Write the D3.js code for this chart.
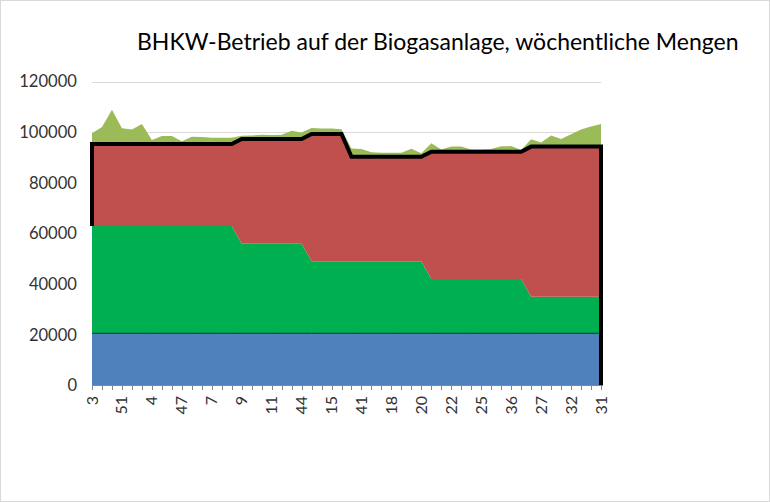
<!DOCTYPE html>
<html><head><meta charset="utf-8">
<script src="https://cdn.jsdelivr.net/npm/d3@7"></script>
<style>body{margin:0;background:#fff}svg{display:block}</style>
</head><body>
<svg id="c" width="770" height="502"></svg>
<script>
// Category tick labels (every 3rd week of 52 shown)
const tickLabels = ["3","51","4","47","7","9","11","44","15","41","18","20","22","25","36","27","32","31"];
const labelEvery = 3;
const yTicks = [0,20000,40000,60000,80000,100000,120000];

// Stacked series (thickness of each layer)
const blueSeries = [20600,20600,20600,20600,20600,20600,20600,20600,20600,20600,20600,20600,20600,20600,20600,20600,20600,20600,20600,20600,20600,20600,20600,20600,20600,20600,20600,20600,20600,20600,20600,20600,20600,20600,20600,20600,20600,20600,20600,20600,20600,20600,20600,20600,20600,20600,20600,20600,20600,20600,20600,20600];
const greenSeries = [42400,42400,42400,42400,42400,42400,42400,42400,42400,42400,42400,42400,42400,42400,42400,
  35400,35400,35400,35400,35400,35400,35400,
  28400,28400,28400,28400,28400,28400,28400,28400,28400,28400,28400,28400,
  21400,21400,21400,21400,21400,21400,21400,21400,21400,21400,
  14400,14400,14400,14400,14400,14400,14400,14400];
const redSeries = [32300,32300,32300,32300,32300,32300,32300,32300,32300,32300,32300,32300,32300,32300,32300,
  41300,41300,41300,41300,41300,41300,41300,
  50300,50300,50300,50300,
  41300,41300,41300,41300,41300,41300,41300,41300,
  50300,50300,50300,50300,50300,50300,50300,50300,50300,50300,
  59300,59300,59300,59300,59300,59300,59300,59300];
const surplusSeries = [4300,6700,13500,6200,5800,7900,1600,3200,3200,1100,2900,2800,2500,2500,2500,
  1300,1400,1700,1600,1700,3300,2600,
  2300,2100,2100,1900,
  3300,3100,1800,1600,1600,1600,3200,1400,
  3300,900,2000,2000,900,900,1100,2100,2200,700,
  2900,1600,4400,3000,4900,6800,7900,8900];

const svg = d3.select("#c");
const FONT = "Lato, 'Liberation Sans', sans-serif";
svg.append("rect").attr("x",0.5).attr("y",0.5).attr("width",769).attr("height",501)
  .attr("fill","#fff").attr("stroke","#d9d9d9");

const n = blueSeries.length;
const x = d3.scaleLinear().domain([0,n-1]).range([92,601]);
const y = d3.scaleLinear().domain([0,120000]).range([385.5,81.5]);

// gridlines
svg.append("g").selectAll("line").data(yTicks.slice(1)).join("line")
  .attr("x1",92).attr("x2",601).attr("y1",d=>Math.round(y(d))+0.5).attr("y2",d=>Math.round(y(d))+0.5)
  .attr("stroke","#d9d9d9").attr("stroke-width",1);

const rows = d3.range(n).map(i=>({i, blue:blueSeries[i], green:greenSeries[i], red:redSeries[i], surplus:surplusSeries[i]}));
const keys = ["blue","green","red","surplus"];
const colors = {blue:"#4f81bd", green:"#00b050", red:"#c0504d", surplus:"#9bbb59"};
const stacked = d3.stack().keys(keys)(rows);
const area = d3.area().x(d=>x(d.data.i)).y0(d=>y(d[0])).y1(d=>y(d[1]));
svg.append("g").selectAll("path").data(stacked).join("path")
  .attr("d",area).attr("fill",d=>colors[d.key]);

// thin line on top of blue
const blueLayer = stacked[0];
svg.append("path").attr("d", d3.line().x(d=>x(d.data.i)).y(d=>y(d[1]))(blueLayer))
  .attr("fill","none").attr("stroke","#1f2a3a").attr("stroke-width",1);

// thick black outline of red layer top
const redLayer = stacked[2];
const pts = [[x(0), y(redLayer[0][0])]]
  .concat(redLayer.map(d=>[x(d.data.i), y(d[1])]))
  .concat([[x(n-1), y(0)]]);
svg.append("path").attr("d", d3.line()(pts)).attr("fill","none")
  .attr("stroke","#000").attr("stroke-width",4).attr("stroke-linejoin","miter");

// x axis
svg.append("line").attr("x1",92).attr("x2",601).attr("y1",385.5).attr("y2",385.5).attr("stroke","#868686");
svg.append("g").selectAll("line").data(d3.range(n)).join("line")
  .attr("x1",d=>Math.round(x(d))+0.5).attr("x2",d=>Math.round(x(d))+0.5).attr("y1",385.5).attr("y2",390)
  .attr("stroke","#868686");
svg.append("g").selectAll("text").data(tickLabels).join("text")
  .attr("transform",(d,k)=>`translate(${x(k*labelEvery)+5.5},396) rotate(-90)`)
  .attr("text-anchor","end").attr("font-family",FONT).attr("font-size",16).attr("fill","#333")
  .text(d=>d);

// y labels
svg.append("g").selectAll("text").data(yTicks).join("text")
  .attr("x",77).attr("y",d=>y(d)+5.7).attr("text-anchor","end")
  .attr("font-family",FONT).attr("font-size",16.6).attr("fill","#333").text(d=>d);

// title
svg.append("text").attr("x",137).attr("y",50).attr("font-family",FONT).attr("font-size",23)
  .attr("fill","#000").text("BHKW-Betrieb auf der Biogasanlage, wöchentliche Mengen");
</script>
</body></html>
